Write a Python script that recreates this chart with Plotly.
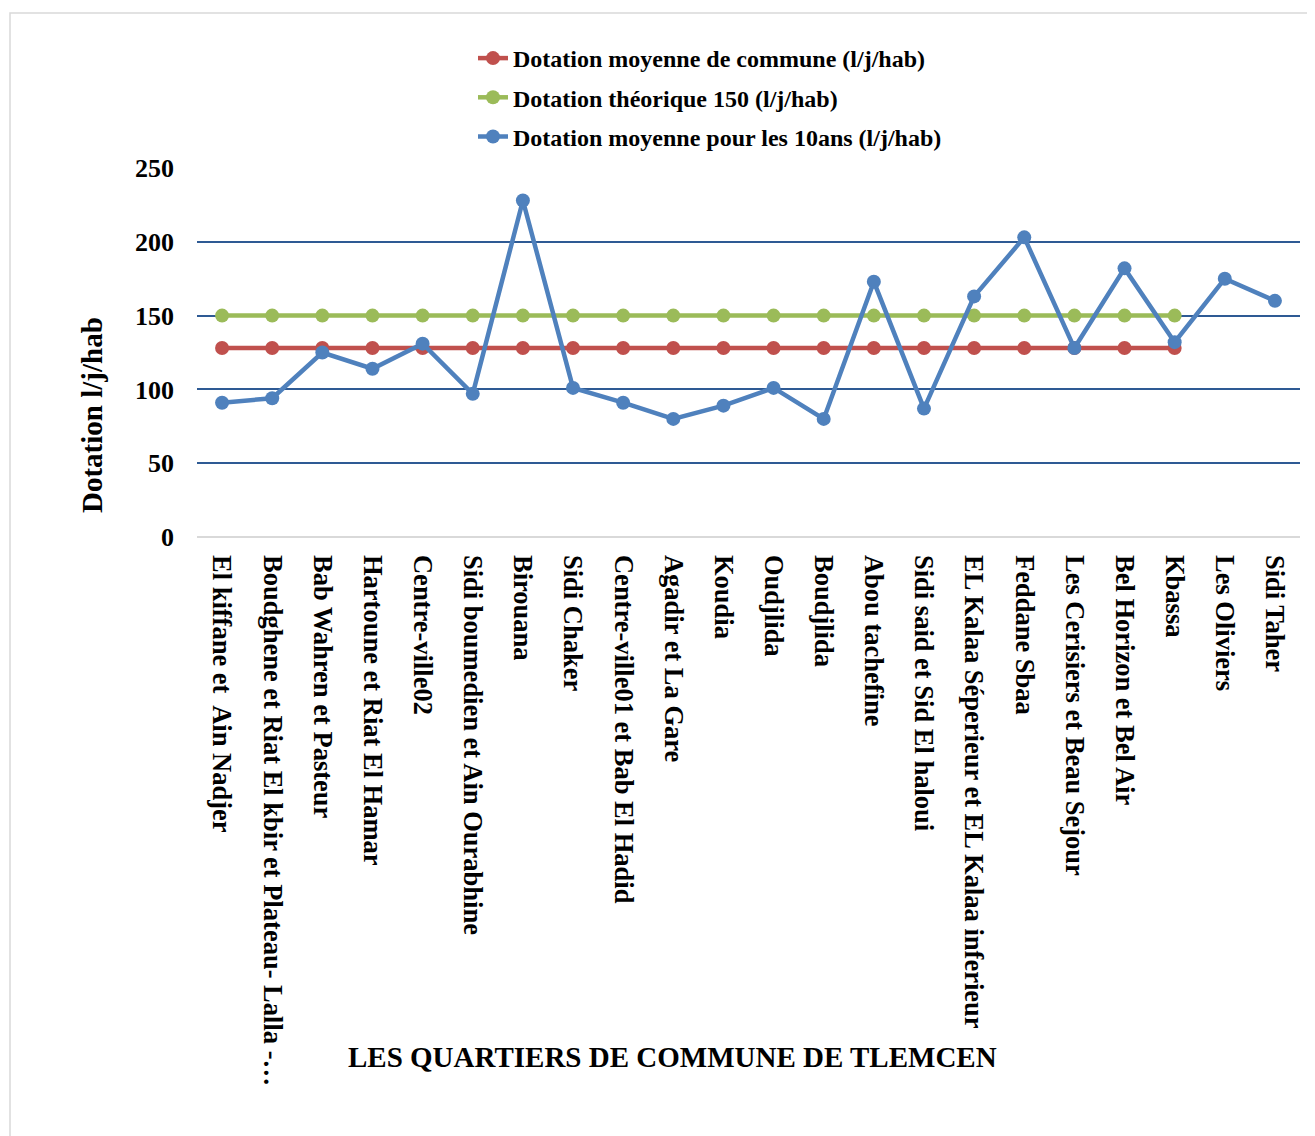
import plotly.graph_objects as go

quartiers = [
    "El kiffane et  Ain Nadjer",
    "Boudghene et Riat El kbir et Plateau- Lalla -…",
    "Bab Wahren et Pasteur",
    "Hartoune et Riat El Hamar",
    "Centre-ville02",
    "Sidi boumedien et Ain Ourabhine",
    "Birouana",
    "Sidi Chaker",
    "Centre-ville01 et Bab El Hadid",
    "Agadir et La Gare",
    "Koudia",
    "Oudjlida",
    "Boudjlida",
    "Abou tachefine",
    "Sidi said et Sid El haloui",
    "EL Kalaa Séperieur et EL Kalaa inferieur",
    "Feddane Sbaa",
    "Les Cerisiers et Beau Sejour",
    "Bel Horizon et Bel Air",
    "Kbassa",
    "Les Oliviers",
    "Sidi Taher",
]

# first 20 quartiers only for the two reference lines
dotation_commune = [128] * 20
dotation_theorique = [150] * 20
dotation_10ans = [91, 94, 125, 114, 131, 97, 228, 101, 91, 80, 89, 101, 80,
                  173, 87, 163, 203, 128, 182, 132, 175, 160]

FONT = "Liberation Serif"
# plot area in page pixels: x 197..1300, y 168..537 (page has an 8px body margin)
PW, PH = 1103, 369

fig = go.Figure()
series = [
    ("Dotation moyenne de commune (l/j/hab)", dotation_commune, "#c0504d"),
    ("Dotation théorique 150 (l/j/hab)", dotation_theorique, "#9bbb59"),
    ("Dotation moyenne pour les 10ans (l/j/hab)", dotation_10ans, "#4f81bd"),
]
for name, vals, color in series:
    fig.add_trace(go.Scatter(
        x=quartiers[:len(vals)], y=vals, name=name, legendgroup=name,
        mode="lines+markers",
        line=dict(color=color, width=4.5),
        marker=dict(color=color, size=14),
    ))

fig.update_layout(
    width=1307, height=1128,
    margin=dict(l=189, r=15, t=160, b=599, autoexpand=False),
    paper_bgcolor="white", plot_bgcolor="white",
    font=dict(family=FONT, color="black", size=24),
    showlegend=True,
    legend=dict(
        x=(473 - 197) / PW, xanchor="left",
        y=(537 - 36) / PH, yanchor="top",
        font=dict(family=FONT, size=24, color="black", weight="bold"),
        tracegroupgap=5, bgcolor="rgba(0,0,0,0)",
    ),
)

fig.update_xaxes(
    type="category", tickangle=90, showgrid=False, showline=False,
    ticks="", tickfont=dict(family=FONT, size=26.5, weight="bold"),
    range=[-0.5, len(quartiers) - 0.5], dtick=1, automargin=False,
    ticklabelstandoff=17,
)
fig.update_yaxes(
    range=[0, 250], dtick=50, showgrid=True, gridcolor="#2e5a94", gridwidth=1.5,
    zeroline=True, zerolinecolor="#d9d9d9", zerolinewidth=2, showline=False,
    tickfont=dict(family=FONT, size=26, weight="bold"), ticklabelstandoff=22,
    automargin=False,
)

fig.add_annotation(
    text="Dotation l/j/hab", textangle=-90, xref="paper", yref="paper",
    x=(92 - 197) / PW, y=(537 - 415) / PH, xanchor="center", yanchor="middle",
    showarrow=False, font=dict(family=FONT, size=29, weight="bold"),
)
fig.add_annotation(
    text="LES QUARTIERS DE COMMUNE DE TLEMCEN", xref="paper", yref="paper",
    x=(672 - 197) / PW, y=(537 - 1057) / PH, xanchor="center", yanchor="middle",
    showarrow=False, font=dict(family=FONT, size=29, weight="bold"),
)
fig.add_shape(
    type="rect", xref="paper", yref="paper",
    x0=(10 - 197) / PW, x1=(1320 - 197) / PW, y0=(537 - 1140) / PH, y1=(537 - 13) / PH,
    line=dict(color="#d9d9d9", width=1.5),
)

fig.write_html("out.html")
